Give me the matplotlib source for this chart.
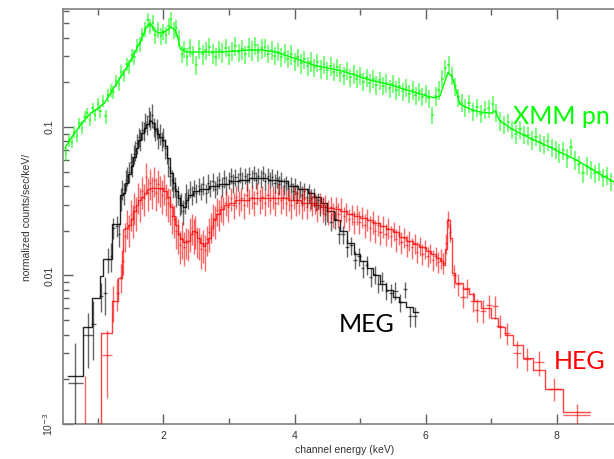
import numpy as np
import matplotlib
matplotlib.use("Agg")
import matplotlib.pyplot as plt
from matplotlib.ticker import FixedLocator, NullFormatter

# ---------------- XMM pn (green) ----------------
pn_energy = [0.52, 0.56, 0.60, 0.64, 0.68, 0.72, 0.76, 0.80, 0.84, 0.88, 0.92, 0.96, 1.00, 1.04, 1.08,
             1.12, 1.16, 1.20, 1.24, 1.28, 1.32, 1.36, 1.40, 1.44, 1.48, 1.52, 1.56, 1.60, 1.64, 1.68,
             1.72, 1.76, 1.80, 1.84, 1.88, 1.92, 1.96, 2.00, 2.04, 2.08, 2.12, 2.16, 2.20, 2.24, 2.28,
             2.32, 2.36, 2.40, 2.45, 2.50, 2.55, 2.60, 2.65, 2.70, 2.75, 2.80, 2.85, 2.90, 2.95, 3.00,
             3.05, 3.10, 3.15, 3.20, 3.25, 3.30, 3.35, 3.40, 3.45, 3.50, 3.55, 3.60, 3.65, 3.70, 3.75,
             3.80, 3.85, 3.90, 3.95, 4.00, 4.05, 4.10, 4.15, 4.20, 4.25, 4.30, 4.35, 4.40, 4.45, 4.50,
             4.55, 4.60, 4.65, 4.70, 4.75, 4.80, 4.85, 4.90, 4.95, 5.00, 5.05, 5.10, 5.15, 5.20, 5.25,
             5.30, 5.35, 5.40, 5.45, 5.50, 5.55, 5.60, 5.65, 5.70, 5.75, 5.80, 5.85, 5.90, 5.95, 6.00,
             6.05, 6.10, 6.15, 6.20, 6.25, 6.30, 6.35, 6.40, 6.45, 6.50, 6.55, 6.60, 6.66, 6.72, 6.78,
             6.84, 6.90, 6.96, 7.02, 7.08, 7.14, 7.20, 7.26, 7.32, 7.38, 7.44, 7.50, 7.56, 7.62, 7.68,
             7.74, 7.80, 7.86, 7.92, 7.98, 8.04, 8.10, 8.16, 8.22, 8.28, 8.34, 8.40, 8.46, 8.52, 8.58,
             8.64, 8.70, 8.76, 8.82, 8.88, 8.94, 9.00]
pn_counts = [0.066, 0.082, 0.079, 0.093, 0.087, 0.106, 0.099, 0.117, 0.124, 0.112, 0.134, 0.121, 0.142, 0.128, 0.150,
             0.118, 0.163, 0.178, 0.171, 0.205, 0.196, 0.236, 0.224, 0.266, 0.256, 0.305, 0.296, 0.352, 0.362, 0.420,
             0.458, 0.525, 0.478, 0.505, 0.418, 0.452, 0.410, 0.440, 0.418, 0.482, 0.530, 0.448, 0.462, 0.398, 0.312,
             0.336, 0.298, 0.342, 0.310, 0.262, 0.336, 0.308, 0.330, 0.348, 0.314, 0.298, 0.332, 0.318, 0.342, 0.306,
             0.326, 0.352, 0.318, 0.334, 0.308, 0.346, 0.328, 0.356, 0.318, 0.338, 0.344, 0.312, 0.330, 0.302, 0.322,
             0.296, 0.316, 0.288, 0.308, 0.278, 0.296, 0.268, 0.286, 0.258, 0.276, 0.252, 0.272, 0.246, 0.264, 0.242,
             0.258, 0.236, 0.252, 0.232, 0.222, 0.242, 0.216, 0.228, 0.212, 0.224, 0.202, 0.216, 0.198, 0.212, 0.192,
             0.206, 0.190, 0.198, 0.182, 0.196, 0.178, 0.188, 0.174, 0.184, 0.168, 0.178, 0.163, 0.174, 0.160, 0.168,
             0.156, 0.120, 0.162, 0.178, 0.212, 0.248, 0.262, 0.224, 0.188, 0.158, 0.146, 0.136, 0.144, 0.128, 0.136,
             0.123, 0.131, 0.134, 0.142, 0.126, 0.110, 0.104, 0.108, 0.097, 0.090, 0.097, 0.089, 0.088, 0.082, 0.086,
             0.079, 0.076, 0.080, 0.073, 0.071, 0.067, 0.070, 0.062, 0.073, 0.060, 0.056, 0.049, 0.055, 0.052, 0.049,
             0.050, 0.046, 0.047, 0.043, 0.041, 0.040, 0.038]
pn_relerr_pct = [10, 10, 9, 10, 9, 9, 10, 9, 9, 10, 9, 9, 10, 10, 9,
                 11, 10, 10, 10, 10, 11, 10, 10, 10, 11, 10, 11, 11, 12, 11,
                 12, 12, 12, 12, 13, 12, 13, 13, 13, 13, 13, 13, 13, 13, 13,
                 13, 14, 14, 14, 14, 14, 15, 14, 14, 15, 14, 14, 15, 14, 14,
                 15, 14, 14, 15, 14, 14, 15, 14, 14, 15, 14, 14, 15, 14, 14,
                 15, 14, 14, 15, 14, 14, 15, 14, 14, 15, 14, 14, 15, 14, 14,
                 14, 14, 14, 14, 14, 14, 14, 14, 14, 14, 14, 14, 14, 14, 14,
                 14, 14, 14, 14, 14, 14, 14, 14, 14, 14, 14, 14, 14, 14, 14,
                 14, 13, 14, 14, 14, 14, 14, 14, 14, 14, 14, 14, 14, 14, 14,
                 14, 14, 14, 14, 14, 14, 14, 14, 14, 14, 14, 14, 14, 14, 14,
                 14, 14, 14, 14, 14, 14, 14, 14, 14, 14, 14, 14, 14, 14, 14,
                 14, 14, 14, 14, 14, 14, 14]
pn_model_energy = [0.50, 0.60, 0.70, 0.80, 0.90, 1.00, 1.10, 1.20, 1.30, 1.40, 1.50, 1.60, 1.68, 1.74, 1.80,
                   1.86, 1.92, 2.00, 2.06, 2.12, 2.18, 2.22, 2.26, 2.35, 2.50, 2.70, 2.90, 3.10, 3.30, 3.50,
                   3.70, 3.90, 4.10, 4.30, 4.50, 4.70, 4.90, 5.10, 5.30, 5.50, 5.70, 5.90, 6.05, 6.15, 6.22,
                   6.28, 6.34, 6.40, 6.46, 6.52, 6.60, 6.70, 6.80, 6.90, 7.00, 7.06, 7.13, 7.30, 7.50, 7.70,
                   7.90, 8.10, 8.30, 8.50, 8.70, 8.90, 9.10]
pn_model = [0.072, 0.085, 0.098, 0.112, 0.125, 0.133, 0.145, 0.170, 0.200, 0.235, 0.280, 0.340, 0.400, 0.470, 0.500,
            0.450, 0.430, 0.430, 0.450, 0.470, 0.450, 0.400, 0.335, 0.320, 0.320, 0.320, 0.320, 0.325, 0.330, 0.330,
            0.320, 0.300, 0.280, 0.260, 0.250, 0.240, 0.225, 0.210, 0.200, 0.190, 0.178, 0.168, 0.160, 0.157, 0.162,
            0.195, 0.232, 0.220, 0.180, 0.143, 0.137, 0.131, 0.127, 0.125, 0.124, 0.128, 0.110, 0.098, 0.088, 0.080,
            0.073, 0.066, 0.060, 0.053, 0.047, 0.042, 0.038]

# ---------------- MEG (black) ----------------
meg_energy = [0.66, 0.85, 0.93, 1.05, 1.11, 1.16, 1.20, 1.24, 1.29, 1.32,
              1.350, 1.375, 1.400, 1.425, 1.450, 1.475, 1.500, 1.525, 1.550, 1.575, 1.600, 1.625, 1.650, 1.675,
              1.700, 1.725, 1.750, 1.775, 1.800, 1.825, 1.850, 1.875, 1.900, 1.925, 1.950, 1.975, 2.000, 2.025,
              2.050, 2.075, 2.100, 2.125, 2.150, 2.175, 2.200, 2.225, 2.250, 2.275, 2.300, 2.325, 2.350, 2.375,
              2.400, 2.435, 2.470, 2.505, 2.540, 2.575, 2.610, 2.645, 2.680, 2.715, 2.750, 2.785, 2.820, 2.855,
              2.890, 2.925, 2.960, 2.995, 3.030, 3.065, 3.100, 3.135, 3.170, 3.205, 3.240, 3.275, 3.310, 3.345,
              3.380, 3.415, 3.450, 3.485, 3.520, 3.555, 3.590, 3.625, 3.660, 3.695, 3.730, 3.765, 3.800, 3.835,
              3.870, 3.905, 3.940, 3.975, 4.010, 4.045, 4.080, 4.115, 4.150, 4.185, 4.220, 4.255, 4.290, 4.325,
              4.360, 4.395, 4.430, 4.465, 4.500, 4.56, 4.62, 4.68, 4.74, 4.80, 4.86, 4.92, 4.98, 5.04, 5.10,
              5.16, 5.22, 5.28, 5.34, 5.40, 5.47, 5.54, 5.61, 5.68, 5.76, 5.83]
meg_counts = [0.0019, 0.0040, 0.0047, 0.0073, 0.0076, 0.0129, 0.0136, 0.0210, 0.0216, 0.0190,
              0.033, 0.038, 0.036, 0.044, 0.047, 0.050, 0.058, 0.055, 0.066, 0.070, 0.078, 0.086, 0.082, 0.096,
              0.094, 0.108, 0.104, 0.118, 0.112, 0.120, 0.100, 0.094, 0.098, 0.084, 0.090, 0.081, 0.086, 0.072,
              0.066, 0.054, 0.047, 0.044, 0.039, 0.040, 0.034, 0.035, 0.030, 0.031, 0.027, 0.031, 0.036, 0.033,
              0.038, 0.035, 0.039, 0.036, 0.040, 0.037, 0.041, 0.036, 0.042, 0.039, 0.043, 0.038, 0.041, 0.044,
              0.040, 0.045, 0.041, 0.044, 0.047, 0.042, 0.046, 0.043, 0.048, 0.044, 0.047, 0.043, 0.048, 0.045,
              0.049, 0.044, 0.047, 0.045, 0.049, 0.043, 0.047, 0.044, 0.046, 0.042, 0.045, 0.041, 0.044, 0.040,
              0.042, 0.039, 0.041, 0.037, 0.040, 0.036, 0.038, 0.035, 0.037, 0.034, 0.036, 0.033, 0.034, 0.031,
              0.032, 0.029, 0.030, 0.026, 0.027, 0.023, 0.024, 0.019, 0.019, 0.0155, 0.016, 0.0128, 0.0135, 0.0112, 0.0118,
              0.0098, 0.0102, 0.0088, 0.0092, 0.0079, 0.0076, 0.0079, 0.0066, 0.0081, 0.0053, 0.0053]
meg_err = [0.0016, 0.0016, 0.0020, 0.0016, 0.0022, 0.0025, 0.0030, 0.0035, 0.0035, 0.0035,
           0.006, 0.006, 0.006, 0.007, 0.007, 0.008, 0.009, 0.009, 0.010, 0.011, 0.012, 0.013, 0.013, 0.014,
           0.014, 0.016, 0.016, 0.018, 0.017, 0.022, 0.015, 0.014, 0.015, 0.013, 0.014, 0.012, 0.013, 0.011,
           0.010, 0.008, 0.007, 0.007, 0.006, 0.006, 0.005, 0.005, 0.005, 0.005, 0.005, 0.005, 0.005, 0.005,
           0.005, 0.005, 0.005, 0.005, 0.005, 0.005, 0.006, 0.005, 0.006, 0.005, 0.006, 0.005, 0.006, 0.006,
           0.006, 0.006, 0.006, 0.006, 0.006, 0.006, 0.006, 0.006, 0.006, 0.006, 0.006, 0.006, 0.006, 0.006,
           0.006, 0.006, 0.006, 0.006, 0.006, 0.006, 0.006, 0.006, 0.006, 0.006, 0.006, 0.006, 0.006, 0.005,
           0.005, 0.005, 0.005, 0.005, 0.005, 0.005, 0.005, 0.005, 0.005, 0.005, 0.005, 0.005, 0.005, 0.004,
           0.004, 0.004, 0.004, 0.004, 0.004, 0.0032, 0.0033, 0.0027, 0.0027, 0.0022, 0.0022, 0.0018, 0.0019, 0.0016, 0.0017,
           0.0014, 0.0014, 0.0012, 0.0013, 0.0011, 0.0011, 0.0011, 0.0009, 0.0010, 0.0008, 0.0008]
meg_halfwidth_sparse = [0.115, 0.07, 0.04, 0.025, 0.025, 0.02, 0.02, 0.02, 0.02, 0.015]
meg_model_edges = [0.547, 0.776, 0.913, 1.035, 1.081, 1.218, 1.340, 1.38, 1.42, 1.46, 1.50, 1.54, 1.58, 1.62, 1.66,
                   1.70, 1.74, 1.78, 1.82, 1.86, 1.90, 1.94, 1.98, 2.02, 2.06, 2.10, 2.14, 2.18, 2.22, 2.26,
                   2.30, 2.34, 2.38, 2.45, 2.55, 2.70, 2.85, 3.00, 3.15, 3.30, 3.45, 3.60, 3.75, 3.90, 4.05,
                   4.20, 4.30, 4.40, 4.50, 4.60, 4.70, 4.80, 4.90, 5.00, 5.10, 5.20, 5.30, 5.40, 5.50, 5.60,
                   5.70, 5.80, 5.88]
meg_model = [0.0021, 0.0045, 0.0070, 0.0099, 0.0129, 0.0223, 0.0346, 0.036, 0.042, 0.048, 0.055, 0.063, 0.072, 0.082, 0.091,
             0.099, 0.105, 0.109, 0.106, 0.097, 0.090, 0.086, 0.082, 0.074, 0.062, 0.049, 0.042, 0.037, 0.033, 0.030,
             0.029, 0.032, 0.035, 0.037, 0.038, 0.040, 0.041, 0.043, 0.044, 0.045, 0.045, 0.044, 0.043, 0.040, 0.038,
             0.036, 0.034, 0.031, 0.027, 0.0235, 0.020, 0.0165, 0.0140, 0.0125, 0.0112, 0.0100, 0.0088, 0.0080, 0.0072, 0.0066,
             0.0061, 0.0057]

# ---------------- HEG (red) ----------------
heg_energy = [0.81, 1.14, 1.23, 1.30, 1.35, 1.38,
              1.41, 1.44, 1.47, 1.50, 1.53, 1.56, 1.59, 1.62, 1.65, 1.68, 1.71, 1.74, 1.77, 1.80, 1.83, 1.86,
              1.89, 1.92, 1.95, 1.98, 2.01, 2.04, 2.07, 2.10, 2.13, 2.16, 2.19, 2.22, 2.25, 2.28, 2.31, 2.34,
              2.37, 2.40, 2.43, 2.46, 2.49, 2.52, 2.55, 2.58, 2.61, 2.64, 2.67, 2.70, 2.73, 2.76, 2.79, 2.82,
              2.85, 2.88, 2.91,
              2.95, 2.99, 3.03, 3.07, 3.11, 3.15, 3.19, 3.23, 3.27, 3.31, 3.35, 3.39, 3.43, 3.47, 3.51, 3.55,
              3.59, 3.63, 3.67, 3.71, 3.75, 3.79, 3.83, 3.87, 3.91, 3.95, 3.99, 4.03, 4.07, 4.11, 4.15, 4.19,
              4.23, 4.27, 4.31, 4.35, 4.39, 4.43, 4.47, 4.51, 4.55, 4.59, 4.63, 4.67, 4.71, 4.75, 4.79, 4.83,
              4.87, 4.91, 4.95, 4.99, 5.03, 5.07, 5.11, 5.15, 5.19, 5.23, 5.27, 5.31, 5.35, 5.39, 5.43, 5.47,
              5.51, 5.55, 5.59, 5.63, 5.67, 5.71, 5.75, 5.79, 5.83, 5.87, 5.91, 5.95, 5.99, 6.03, 6.07, 6.11,
              6.15, 6.19, 6.23, 6.27, 6.31, 6.34, 6.37,
              6.43, 6.50, 6.57, 6.63, 6.72, 6.78, 6.87, 6.97, 7.06, 7.13, 7.24, 7.39, 7.55, 7.73, 7.96, 8.30]
heg_counts = [0.0008, 0.0029, 0.0067, 0.0076, 0.0098, 0.0125,
              0.0185, 0.0225, 0.0205, 0.026, 0.024, 0.029, 0.027, 0.034, 0.031, 0.037, 0.033, 0.046, 0.036, 0.042, 0.037, 0.044,
              0.036, 0.041, 0.038, 0.035, 0.039, 0.033, 0.031, 0.030, 0.025, 0.024, 0.020, 0.019, 0.016, 0.018, 0.0155, 0.0170,
              0.0165, 0.0195, 0.021, 0.019, 0.020, 0.0172, 0.0168, 0.0150, 0.0162, 0.0148, 0.0175, 0.0195, 0.0215, 0.0245, 0.0235, 0.0275,
              0.026, 0.029, 0.028,
              0.031, 0.029, 0.033, 0.030, 0.034, 0.031, 0.033, 0.030, 0.035, 0.032, 0.034, 0.031, 0.036, 0.032, 0.034, 0.031,
              0.035, 0.032, 0.034, 0.031, 0.036, 0.032, 0.034, 0.031, 0.033, 0.030, 0.034, 0.031, 0.032, 0.030, 0.033, 0.029,
              0.032, 0.030, 0.031, 0.028, 0.031, 0.028, 0.030, 0.027, 0.029, 0.026, 0.029, 0.026, 0.028, 0.025, 0.027, 0.024,
              0.026, 0.023, 0.026, 0.023, 0.025, 0.022, 0.024, 0.021, 0.023, 0.020, 0.022, 0.0195, 0.0215, 0.019, 0.021, 0.0185,
              0.0200, 0.0175, 0.0190, 0.0168, 0.0180, 0.0160, 0.0172, 0.0155, 0.0165, 0.0145, 0.0158, 0.0140, 0.0152, 0.0135, 0.0142, 0.0128,
              0.0136, 0.0124, 0.0130, 0.0122, 0.0165, 0.0240, 0.0195,
              0.0100, 0.0088, 0.0072, 0.0082, 0.0067, 0.0059, 0.0058, 0.0063, 0.0062, 0.0046, 0.0041, 0.0030, 0.00276, 0.0026, 0.00173, 0.00115]
heg_err = [0.0013, 0.0014, 0.0018, 0.0018, 0.0022, 0.0025,
           0.004, 0.005, 0.005, 0.006, 0.006, 0.007, 0.007, 0.008, 0.008, 0.009, 0.008, 0.011, 0.009, 0.010, 0.009, 0.010,
           0.009, 0.010, 0.009, 0.009, 0.009, 0.008, 0.008, 0.008, 0.006, 0.006, 0.005, 0.005, 0.004, 0.005, 0.004, 0.004,
           0.004, 0.005, 0.005, 0.005, 0.005, 0.004, 0.004, 0.004, 0.004, 0.004, 0.004, 0.005, 0.005, 0.006, 0.006, 0.006,
           0.006, 0.006, 0.006,
           0.006, 0.006, 0.006, 0.006, 0.006, 0.006, 0.006, 0.006, 0.006, 0.006, 0.006, 0.006, 0.006, 0.006, 0.006, 0.006,
           0.006, 0.006, 0.006, 0.006, 0.006, 0.006, 0.006, 0.006, 0.006, 0.006, 0.006, 0.006, 0.006, 0.006, 0.006, 0.005,
           0.005, 0.005, 0.005, 0.005, 0.005, 0.005, 0.005, 0.005, 0.005, 0.005, 0.005, 0.005, 0.005, 0.004, 0.004, 0.004,
           0.004, 0.004, 0.004, 0.004, 0.004, 0.004, 0.004, 0.004, 0.004, 0.0035, 0.0035, 0.0035, 0.0035, 0.0033, 0.0033, 0.003,
           0.003, 0.003, 0.003, 0.0028, 0.0028, 0.0026, 0.0026, 0.0025, 0.0025, 0.0023, 0.0023, 0.0022, 0.0022, 0.0021, 0.0021, 0.002,
           0.002, 0.002, 0.002, 0.002, 0.0025, 0.0030, 0.0028,
           0.0018, 0.0015, 0.0012, 0.0012, 0.0010, 0.0010, 0.0010, 0.0011, 0.0011, 0.0008, 0.0007, 0.0006, 0.0005, 0.0005, 0.0003, 0.00022]
heg_halfwidth_sparse_lo = [0.0, 0.076, 0.02, 0.02, 0.015, 0.015]
heg_halfwidth_sparse_hi = [0.03, 0.035, 0.04, 0.04, 0.04, 0.04, 0.045, 0.045, 0.05, 0.05, 0.05, 0.06, 0.06, 0.08, 0.10, 0.20]
heg_model_edges = [0.90, 1.050, 1.218, 1.310, 1.371, 1.386, 1.42, 1.46, 1.50, 1.54, 1.58, 1.62, 1.66, 1.70, 1.75,
                   1.80, 1.85, 1.90, 1.95, 2.00, 2.05, 2.10, 2.14, 2.18, 2.22, 2.26, 2.30, 2.35, 2.40, 2.44,
                   2.48, 2.52, 2.56, 2.60, 2.64, 2.68, 2.72, 2.76, 2.80, 2.86, 2.92, 3.00, 3.10, 3.20, 3.30,
                   3.40, 3.50, 3.60, 3.70, 3.80, 3.90, 4.00, 4.10, 4.20, 4.30, 4.40, 4.50, 4.60, 4.70, 4.80,
                   4.90, 5.00, 5.10, 5.20, 5.30, 5.40, 5.50, 5.60, 5.70, 5.80, 5.90, 6.00, 6.08, 6.16, 6.22,
                   6.27, 6.30, 6.33, 6.37, 6.40, 6.45, 6.57, 6.66, 6.74, 6.84, 6.99, 7.10, 7.21, 7.33, 7.48,
                   7.64, 7.82, 8.09, 8.50]
heg_model = [0.0005, 0.0041, 0.0067, 0.0096, 0.01465, 0.0207, 0.021, 0.022, 0.024, 0.027, 0.030, 0.032, 0.034, 0.036, 0.038,
             0.039, 0.039, 0.039, 0.039, 0.037, 0.034, 0.029, 0.025, 0.022, 0.019, 0.0175, 0.0168, 0.017, 0.019, 0.020,
             0.0195, 0.018, 0.0165, 0.0158, 0.0165, 0.018, 0.021, 0.024, 0.026, 0.028, 0.030, 0.031, 0.032, 0.032, 0.033,
             0.033, 0.033, 0.033, 0.033, 0.033, 0.032, 0.032, 0.031, 0.031, 0.030, 0.029, 0.0285, 0.028, 0.027, 0.026,
             0.025, 0.0245, 0.0235, 0.0225, 0.0215, 0.0205, 0.0195, 0.0183, 0.0172, 0.0163, 0.0155, 0.0146, 0.0140, 0.0132, 0.0125,
             0.0118, 0.0150, 0.0235, 0.0180, 0.0104, 0.0089, 0.0081, 0.0075, 0.0067, 0.0060, 0.0052, 0.0045, 0.0040, 0.0034, 0.0028,
             0.0023, 0.00173, 0.0012]

x_ticks = [2, 4, 6, 8]
y_ticks = [1e-3, 1e-2, 1e-1]
y_ticklabels = ["10$^{-3}$", "0.01", "0.1"]

GREEN = "#00ff00"
RED = "#ff0000"
BLACK = "#000000"


def dense_halfwidths(energies, sparse_lo, sparse_hi=()):
    """half bin widths: explicit for sparse bins, half the spacing for dense bins."""
    n = len(energies)
    hw = list(sparse_lo)
    lo = len(sparse_lo)
    hi = n - len(sparse_hi)
    for i in range(lo, hi):
        left = energies[i] - energies[i - 1] if i > 0 else energies[i + 1] - energies[i]
        right = energies[i + 1] - energies[i] if i + 1 < n else left
        hw.append(0.45 * min(left, right))
    hw += list(sparse_hi)
    return hw


fig = plt.figure(figsize=(6.14, 4.59), dpi=100)
ax = fig.add_axes([63 / 614, 1 - 424 / 459, (627 - 63) / 614, (424 - 9) / 459])
ax.set_yscale("log")
ax.set_xlim(0.47, 9.07)
ax.set_ylim(1e-3, 0.623)


def draw_steps(edges, vals, color, lw=1.0, alpha=1.0):
    ys = list(vals) + [vals[-1]]
    ax.step(edges, ys, where="post", color=color, lw=lw, alpha=alpha, zorder=3)


# models
ax.plot(pn_model_energy, pn_model, color=GREEN, lw=1.0, zorder=3)
draw_steps(meg_model_edges, meg_model, BLACK, lw=1.0, alpha=0.85)
draw_steps(heg_model_edges, heg_model, RED, lw=1.0, alpha=0.75)

# data with error bars
pn_err = [v * p / 100.0 for v, p in zip(pn_counts, pn_relerr_pct)]
pn_half = dense_halfwidths(pn_energy, [])
meg_half = dense_halfwidths(meg_energy, meg_halfwidth_sparse)
heg_half = dense_halfwidths(heg_energy, heg_halfwidth_sparse_lo, heg_halfwidth_sparse_hi)
ax.errorbar(pn_energy, pn_counts, yerr=pn_err, xerr=pn_half, fmt="none",
            ecolor=GREEN, elinewidth=1.2, alpha=0.6, zorder=4)
ax.errorbar(meg_energy, meg_counts, yerr=meg_err, xerr=meg_half, fmt="none",
            ecolor=BLACK, elinewidth=1.0, alpha=0.6, zorder=4)
ax.errorbar(heg_energy, heg_counts, yerr=heg_err, xerr=heg_half, fmt="none",
            ecolor=RED, elinewidth=1.0, alpha=0.6, zorder=4)

# axes styling
for s in ax.spines.values():
    s.set_color("#808080")
    s.set_linewidth(1.2)
ax.xaxis.set_major_locator(FixedLocator(x_ticks))
ax.xaxis.set_minor_locator(FixedLocator([1, 3, 5, 7, 9]))
ax.set_xticklabels([str(t) for t in x_ticks])
minor_y = [m * 10.0 ** e for e in (-3, -2, -1) for m in range(2, 10)]
ax.yaxis.set_major_locator(FixedLocator(y_ticks))
ax.yaxis.set_minor_locator(FixedLocator(minor_y))
ax.yaxis.set_minor_formatter(NullFormatter())
ax.set_yticklabels(y_ticklabels)
ax.tick_params(which="both", direction="in", top=True, right=True, color="#606060", width=1.0)
ax.tick_params(which="major", length=7)
ax.tick_params(which="minor", length=4)
ax.tick_params(axis="x", labelsize=7.5, labelcolor="#333333", pad=5)
ax.tick_params(axis="y", labelsize=7.5, labelcolor="#333333", pad=6)
for lab in ax.get_yticklabels():
    lab.set_rotation(90)
    lab.set_va("center")
    lab.set_family("Liberation Sans")
for lab in ax.get_xticklabels():
    lab.set_family("Liberation Sans")

ax.set_xlabel("channel energy (keV)", fontsize=7.5, color="#333333", family="Liberation Sans", labelpad=3)
fig.text(27 / 614, 1 - 217 / 459, "normalized counts/sec/keV/", rotation=90, fontsize=7.5,
         color="#333333", family="Liberation Sans", ha="center", va="center")

# series labels
ax.text(7.33, 0.105, "XMM pn", color=GREEN, fontsize=18, family="Lato", ha="left", va="baseline", zorder=5)
ax.text(4.68, 0.00414, "MEG", color=BLACK, fontsize=18, family="Lato", ha="left", va="baseline", zorder=5)
ax.text(7.96, 0.00236, "HEG", color=RED, fontsize=18, family="Lato", ha="left", va="baseline", zorder=5)

fig.savefig("out.png", dpi=100)
